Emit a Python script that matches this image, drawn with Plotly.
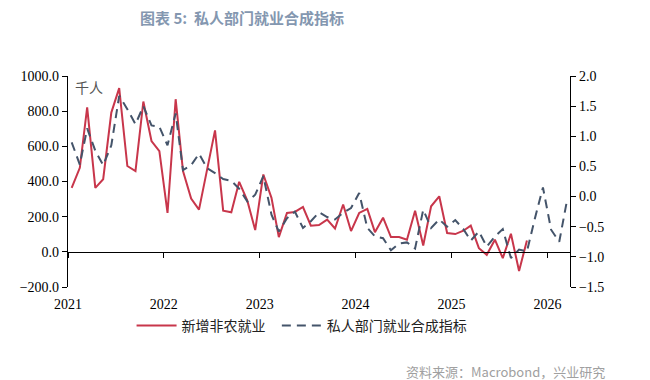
import pandas as pd
import plotly.graph_objects as go

# Monthly data, Jan 2021 onwards
nfp_values = [364, 478, 821, 364, 413, 792, 931, 488, 459, 855, 630, 573,
              221, 868, 459, 303, 240, 465, 691, 234, 225, 398, 291, 124,
              440, 307, 84, 221, 227, 255, 149, 152, 183, 133, 269, 118,
              221, 244, 112, 194, 84, 84, 69, 234, 36, 259, 316, 107,
              101, 120, 149, 21, -17, 69, -36, 103, -109, 65]
composite_values = [0.90, 0.53, 1.13, 0.76, 0.52, 0.85, 1.67, 1.45, 1.20, 1.50, 1.18, 1.16,
                    0.85, 1.38, 0.44, 0.52, 0.71, 0.47, 0.39, 0.29, 0.26, 0.13, -0.08, 0.03,
                    0.34, -0.30, -0.58, -0.36, -0.25, -0.52, -0.41, -0.26, -0.34, -0.38, -0.27, -0.19,
                    0.06, -0.52, -0.66, -0.69, -0.89, -0.78, -0.76, -0.86, -0.22, -0.52, -0.38, -0.50,
                    -0.39, -0.54, -0.73, -0.58, -0.83, -0.66, -0.54, -1.02, -0.88, -0.91, -0.35, 0.15,
                    -0.55, -0.75, -0.10]
nfp_dates = pd.date_range("2021-01-01", periods=len(nfp_values), freq="MS") + pd.Timedelta(days=14)
comp_dates = pd.date_range("2021-01-01", periods=len(composite_values), freq="MS") + pd.Timedelta(days=14)
year_ticks = ["2021-01-01", "2022-01-01", "2023-01-01", "2024-01-01", "2025-01-01", "2026-01-01"]
year_labels = ["2021", "2022", "2023", "2024", "2025", "2026"]

name_nfp = "新增非农就业&nbsp;&nbsp;"
name_comp = "私人部门就业合成指标"
title_text = "图表 5:&nbsp;&nbsp;私人部门就业合成指标"
unit_text = "千人"
source_text = "资料来源：Macrobond，兴业研究"

x_range = ["2021-01-01", "2026-03-28"]
serif = "Liberation Serif, Times New Roman, serif"
cjk = "Noto Sans CJK SC, sans-serif"

W, H = 642, 372
L, R, T, B = 58, 80, 68, 93
PW, PH = W - L - R, H - T - B

fig = go.Figure()
fig.add_trace(go.Scatter(x=nfp_dates, y=nfp_values, name=name_nfp, mode="lines",
                         line=dict(color="#C8364B", width=2), xaxis="x", yaxis="y"))
fig.add_trace(go.Scatter(x=comp_dates, y=composite_values, name=name_comp, mode="lines",
                         line=dict(color="#44546A", width=2, dash="9px,6px"),
                         xaxis="x2", yaxis="y2"))

fig.update_layout(
    width=W, height=H,
    margin=dict(l=L, r=R, t=T, b=B),
    plot_bgcolor="white", paper_bgcolor="white",
    showlegend=True,
    legend=dict(orientation="h", x=(293 - L) / PW, xanchor="center",
                y=-(318 - (T + PH)) / PH, yanchor="middle",
                font=dict(family=cjk, size=14, color="#222222"), traceorder="normal",
                itemwidth=40, bgcolor="rgba(0,0,0,0)"),
    title=dict(text=title_text, x=234 / W, xref="container", xanchor="center",
               y=1 - 11 / H, yref="container", yanchor="middle",
               font=dict(family=cjk, size=15, color="#8497B0", weight="bold")),
    xaxis=dict(type="date", range=x_range, tickvals=year_ticks, ticktext=year_labels,
               showline=False, ticks="", showgrid=False, zeroline=False,
               ticklabelstandoff=7,
               tickfont=dict(family=serif, size=14, color="#000000"), anchor="y"),
    xaxis2=dict(type="date", range=x_range, tickvals=year_ticks, ticktext=year_labels,
                overlaying="x", anchor="free", position=1 / 6,
                showline=True, linecolor="#000000", linewidth=1.3,
                ticks="outside", ticklen=5, tickcolor="#000000",
                showticklabels=False, showgrid=False, zeroline=False),
    yaxis=dict(range=[-200, 1000], dtick=200, tick0=0, tickformat=".1f",
               showline=True, linecolor="#000000", linewidth=1.3,
               ticks="outside", ticklen=5, tickcolor="#000000",
               showgrid=False, zeroline=False,
               tickfont=dict(family=serif, size=14, color="#000000")),
    yaxis2=dict(range=[-1.5, 2.0], dtick=0.5, tick0=0, tickformat=".1f",
                overlaying="y", side="right", anchor="x",
                showline=True, linecolor="#000000", linewidth=1.3,
                ticks="outside", ticklen=5, tickcolor="#000000",
                showgrid=False, zeroline=False,
                tickfont=dict(family=serif, size=14, color="#000000")),
    annotations=[
        dict(text=unit_text, xref="paper", yref="paper", x=0.01, y=0.95,
             xanchor="left", yanchor="middle", showarrow=False,
             font=dict(family=cjk, size=14, color="#555555")),
        dict(text=source_text, xref="paper", yref="paper", x=(599 - L) / PW,
             y=-(363 - (T + PH)) / PH, xanchor="right", yanchor="middle", showarrow=False,
             font=dict(family=cjk, size=13, color="#A0A0A0")),
    ],
)

fig.write_html("out.html")
